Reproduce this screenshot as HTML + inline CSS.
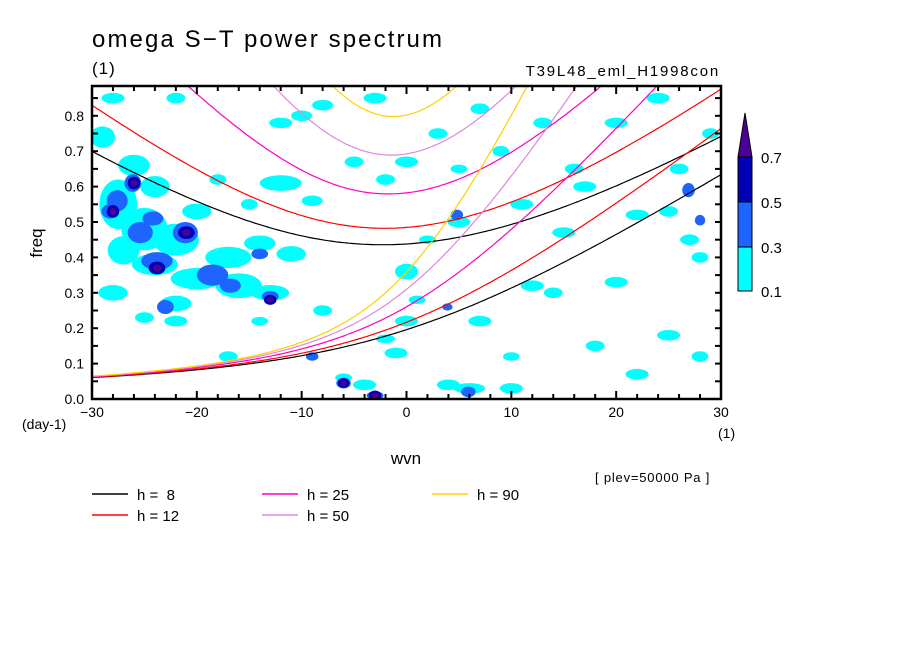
<!DOCTYPE html>
<html><head><meta charset="utf-8"><style>
body{margin:0;background:#fff}
svg text{font-family:"Liberation Sans",sans-serif;fill:#000}
</style></head><body>
<svg id="c" width="904" height="654" xmlns="http://www.w3.org/2000/svg">
<rect width="904" height="654" fill="#fff"/>
<text x="92" y="47" font-size="24" letter-spacing="2.1">omega S−T power spectrum</text>
<text x="92" y="74" font-size="17" letter-spacing="1">(1)</text>
<text x="720" y="76" font-size="15" letter-spacing="1.8" text-anchor="end">T39L48_eml_H1998con</text>
<defs><clipPath id="pc"><rect x="92" y="86" width="629" height="313"/></clipPath></defs>
<g id="blobs" clip-path="url(#pc)"></g>
<g id="curves" clip-path="url(#pc)"></g>
<rect x="92" y="86" width="629" height="313" fill="none" stroke="#000" stroke-width="2.5"/>
<g id="ticks"></g>
<text x="42" y="243" font-size="17" transform="rotate(-90 42 243)" text-anchor="middle">freq</text>
<text x="22" y="429" font-size="14">(day-1)</text>
<text x="718" y="438" font-size="14">(1)</text>
<text x="406" y="464" font-size="17" text-anchor="middle">wvn</text>
<text x="595" y="482" font-size="13" letter-spacing="0.8">[ plev=50000 Pa ]</text>
<g id="legend"></g>
<g id="cbar"></g>
</svg>
<script>
const hValues=[8,12,25,50,90];
const hColors=["#000000","#ff0000","#ff00c0","#dd88dd","#ffd000"];
const xTicks=[-30,-20,-10,0,10,20,30];
const yTicks=[0,0.1,0.2,0.3,0.4,0.5,0.6,0.7,0.8];
const levels=[0.1,0.3,0.5,0.7];
const levelColors=["#00ffff","#1e64ff","#0000b4","#4b0096"];
// blobs: wvn, freq, rx(wvn), ry(freq), level index
const blobWvn=[-29,-27.5,-25,-22,-27,-20,-16,-13,-24,-17,-11,-28,-24,-20,-18,-15,-12,-9,-10,-8,-5,0,5,2,11,15,17,22,25,27,28,20,14,1,7,25,18,10,-1,4,-4,-6,-2,-17,-22,-25,-14,-8,0,10,28,22,12,16,24,-28,-22,-12,-3,3,7,13,5,9,-2,26,29,20,-26,-22,-14,6,0,
 -26.1,-27.6,-28.3,-24.2,-25.4,-21.1,-23.8,-18.5,-16.8,-13,-23,-14,-9,-6,-3,4.8,5.9,26.9,28,3.9,
 -28,-26,-21,-23.8,-13,-3,-6,
 -28,-26,-21,-23.8,-13,-3,-6];
const blobFreq=[0.74,0.55,0.48,0.45,0.42,0.34,0.32,0.3,0.38,0.4,0.41,0.3,0.6,0.53,0.62,0.55,0.61,0.56,0.8,0.83,0.67,0.67,0.5,0.45,0.55,0.47,0.6,0.52,0.53,0.45,0.4,0.33,0.3,0.28,0.22,0.18,0.15,0.12,0.13,0.04,0.04,0.06,0.17,0.12,0.22,0.23,0.22,0.25,0.22,0.03,0.12,0.07,0.32,0.65,0.85,0.85,0.85,0.78,0.85,0.75,0.82,0.78,0.65,0.7,0.62,0.65,0.75,0.78,0.66,0.27,0.44,0.03,0.36,
 0.61,0.56,0.53,0.51,0.47,0.47,0.39,0.35,0.32,0.29,0.26,0.41,0.12,0.045,0.01,0.52,0.02,0.59,0.505,0.26,
 0.53,0.61,0.47,0.37,0.28,0.01,0.045,
 0.53,0.61,0.47,0.37,0.28,0.01,0.045];
const blobRx=[1.2,1.8,2.2,2.2,1.5,2.5,2.2,1.8,2.2,2.2,1.4,1.4,1.4,1.4,0.8,0.8,2,1,1,1,0.9,1.1,1.1,0.8,1.1,1.1,1.1,1.1,0.9,0.9,0.8,1.1,0.9,0.8,1.1,1.1,0.9,0.8,1.1,1.1,1.1,0.8,0.9,0.9,1.1,0.9,0.8,0.9,1.1,1.1,0.8,1.1,1.1,0.9,1.1,1.1,0.9,1.1,1.1,0.9,0.9,0.9,0.8,0.8,0.9,0.9,0.8,1.1,1.5,1.5,1.5,1.5,1.1,
 0.8,1,0.8,1,1.2,1.2,1.5,1.5,1,0.8,0.8,0.8,0.6,0.7,0.8,0.6,0.7,0.6,0.5,0.5,
 0.6,0.6,0.8,0.8,0.6,0.6,0.55,
 0.3,0.3,0.4,0.4,0.3,0.35,0.3];
const blobRy=[0.03,0.07,0.06,0.045,0.04,0.03,0.035,0.022,0.03,0.03,0.022,0.022,0.03,0.022,0.015,0.015,0.022,0.015,0.015,0.015,0.015,0.015,0.015,0.012,0.015,0.015,0.015,0.015,0.015,0.015,0.015,0.015,0.015,0.012,0.015,0.015,0.015,0.012,0.015,0.015,0.015,0.012,0.012,0.015,0.015,0.015,0.012,0.015,0.015,0.015,0.015,0.015,0.015,0.015,0.015,0.015,0.015,0.015,0.015,0.015,0.015,0.015,0.012,0.015,0.015,0.015,0.015,0.015,0.03,0.022,0.022,0.015,0.022,
 0.025,0.03,0.02,0.02,0.03,0.03,0.025,0.03,0.02,0.015,0.02,0.015,0.012,0.015,0.012,0.015,0.015,0.02,0.015,0.01,
 0.018,0.018,0.018,0.018,0.014,0.014,0.014,
 0.01,0.01,0.01,0.01,0.008,0.008,0.008];
const blobLevel=[];
for(let i=0;i<blobWvn.length;i++)blobLevel.push(i<73?0:(i<93?1:(i<100?2:3)));
const NS='http://www.w3.org/2000/svg';
const X0=92,X1=721,Y0=399,PPF=354;
const xs=w=>X0+(w+30)/60*(X1-X0);
const ys=f=>Y0-f*PPF;
function mk(t,a,p){const e=document.createElementNS(NS,t);for(const k in a)e.setAttribute(k,a[k]);p.appendChild(e);return e;}
const blobs=document.getElementById('blobs');
for(let lv=0;lv<4;lv++){for(let i=0;i<blobWvn.length;i++){if(blobLevel[i]!==lv)continue;
 const e=mk('ellipse',{cx:xs(blobWvn[i]),cy:ys(blobFreq[i]),rx:blobRx[i]*(X1-X0)/60,ry:blobRy[i]*PPF,fill:levelColors[lv]},blobs);
 
 }}
const beta=2.29e-11,a=6.371e6,g=9.81,toCpd=86400/(2*Math.PI);
function mrg(s,c){const k=s/a;return (k*c/2+Math.sqrt(k*k*c*c/4+beta*c))*toCpd;}
function ig(s,c,n){const k=s/a;const p=c*c*k*k+(2*n+1)*beta*c,q=beta*k*c*c;let w=Math.sqrt(p)+1e-4;
 for(let i=0;i<50;i++){const f=w*w*w-p*w-q,d=3*w*w-p;w-=f/d;}return w*toCpd;}
const curves=document.getElementById('curves');
hValues.forEach((h,j)=>{const c=Math.sqrt(g*h);let d1='',d2='';
 for(let s=-30;s<=30.01;s+=0.25){d1+=(d1?'L':'M')+xs(s).toFixed(1)+','+ys(mrg(s,c)).toFixed(1);d2+=(d2?'L':'M')+xs(s).toFixed(1)+','+ys(ig(s,c,2)).toFixed(1);}
 const p1=mk('path',{d:d1,fill:'none',stroke:hColors[j],'stroke-width':1.2},curves);
 
 
 const p2=mk('path',{d:d2,fill:'none',stroke:hColors[j],'stroke-width':1.2},curves);
 
 });
const tk=document.getElementById('ticks');
for(let w=-30;w<=30;w+=2){const big=w%10===0,L=big?8:5;
 mk('line',{x1:xs(w),x2:xs(w),y1:Y0,y2:Y0-L,stroke:'#000','stroke-width':2},tk);
 mk('line',{x1:xs(w),x2:xs(w),y1:86,y2:86+L,stroke:'#000','stroke-width':2},tk);}
for(let f=0;f<=0.88;f+=0.05){mk('line',{x1:X0,x2:X0+6,y1:ys(f),y2:ys(f),stroke:'#000','stroke-width':2},tk);
 mk('line',{x1:X1,x2:X1-6,y1:ys(f),y2:ys(f),stroke:'#000','stroke-width':2},tk);}
xTicks.forEach(w=>{const t=mk('text',{x:xs(w),y:417,'font-size':14,'text-anchor':'middle'},tk);t.textContent=(w<0?'−':'')+Math.abs(w);
 
 });
yTicks.forEach(f=>{const t=mk('text',{x:84,y:ys(f)+5,'font-size':14,'text-anchor':'end'},tk);t.textContent=f.toFixed(1);
 
 });
const lg=document.getElementById('legend');
const lx=[92,92,262,262,432],ly=[494,515,494,515,494];
hValues.forEach((h,j)=>{const g2=mk('g',{},lg);
 
 
 mk('line',{x1:lx[j],x2:lx[j]+36,y1:ly[j],y2:ly[j],stroke:hColors[j],'stroke-width':1.5},g2);
 const t=mk('text',{x:lx[j]+45,y:ly[j]+6,'font-size':15},g2);t.textContent='h = '+(h<10?' ':'')+h;t.style.whiteSpace='pre';});
const cb=document.getElementById('cbar');
const cby=[291,247,202,157];
for(let i=0;i<3;i++){const r=mk('rect',{x:738,y:cby[i+1],width:14,height:cby[i]-cby[i+1],fill:levelColors[i],stroke:'#000','stroke-width':1},cb);
 
 }
const tri=mk('polygon',{points:'738,157 752,157 745,113',fill:levelColors[3],stroke:'#000','stroke-width':1},cb);


levels.forEach((v,i)=>{const t=mk('text',{x:761,y:cby[i]+6,'font-size':15},cb);t.textContent=v.toFixed(1);
 
 });
</script>
</body></html>
